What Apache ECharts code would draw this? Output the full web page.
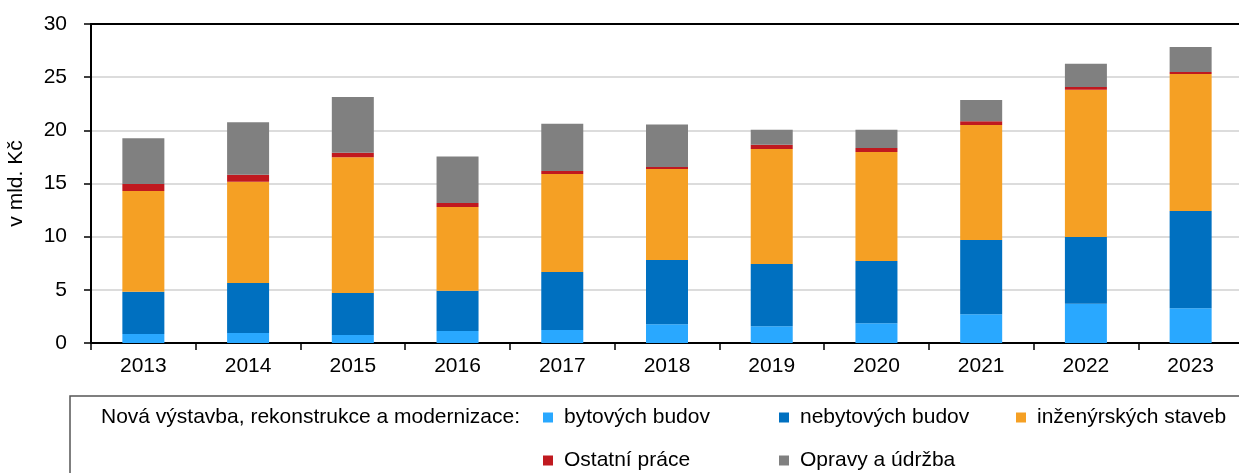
<!DOCTYPE html>
<html>
<head>
<meta charset="utf-8">
<script src="https://cdn.jsdelivr.net/npm/echarts@6/dist/echarts.min.js"></script>
<style>
  html, body { margin: 0; padding: 0; background: #fff; }
  #chart { width: 1239px; height: 473px; }
</style>
</head>
<body>
<div id="chart"></div>
<script>
const years = ['2013', '2014', '2015', '2016', '2017', '2018', '2019', '2020', '2021', '2022', '2023']
const bytove = [0.85, 0.94, 0.75, 1.13, 1.22, 1.76, 1.57, 1.85, 2.70, 3.70, 3.26]
const nebytove = [3.98, 4.70, 3.95, 3.79, 5.46, 6.05, 5.86, 5.86, 6.99, 6.27, 9.15]
const inzenyrske = [9.47, 9.53, 12.76, 7.87, 9.21, 8.55, 10.81, 10.25, 10.81, 13.85, 12.89]
const ostatni = [0.65, 0.66, 0.44, 0.38, 0.29, 0.19, 0.41, 0.38, 0.35, 0.26, 0.19]
const opravy = [4.30, 4.92, 5.23, 4.38, 4.45, 4.01, 1.41, 1.72, 2.00, 2.19, 2.35]

const names = ['bytových budov', 'nebytových budov', 'inženýrských staveb', 'Ostatní práce', 'Opravy a údržba']
const colors = ['#29A8FF', '#0070C0', '#F5A024', '#C0191F', '#808080']
const seriesData = [bytove, nebytove, inzenyrske, ostatni, opravy]
// marker left / row centre for each legend item
const legendPos = [[543, 418], [779, 418], [1016, 418], [543, 461], [779, 461]]

const font = 'Liberation Sans, Arial, sans-serif'
const fs = 21

const chart = echarts.init(document.getElementById('chart'))
chart.setOption({
  animation: false,
  textStyle: { fontFamily: font },
  title: {
    text: 'Nová výstavba, rekonstrukce a modernizace:',
    left: 101,
    top: 407,
    padding: 0,
    textStyle: { fontSize: fs, fontWeight: 'normal', color: '#000', fontFamily: font }
  },
  graphic: [{
    type: 'rect',
    shape: { x: 70, y: 396, width: 1200, height: 120 },
    style: { fill: 'none', stroke: '#555', lineWidth: 1.5 },
    silent: true
  }],
  legend: names.map((n, i) => ({
    data: [n],
    left: legendPos[i][0],
    top: legendPos[i][1] - 11,
    padding: 0,
    icon: 'rect',
    itemWidth: 10,
    itemHeight: 10,
    selectedMode: false,
    textStyle: { fontSize: fs, color: '#000', fontFamily: font, padding: [0, 0, 0, 6] }
  })),
  grid: {
    left: 91,
    top: 24,
    width: 1152,
    bottom: 130,
    outerBoundsMode: 'none'
  },
  xAxis: [{
    type: 'category',
    data: years,
    axisLine: { lineStyle: { color: '#000', width: 2 } },
    axisTick: { show: true, length: 7, lineStyle: { color: '#000', width: 1.5 } },
    axisLabel: { color: '#000', fontSize: fs, margin: 13, fontFamily: font }
  }, {
    type: 'category',
    position: 'top',
    data: years,
    axisLine: { lineStyle: { color: '#000', width: 2 } },
    axisTick: { show: false },
    axisLabel: { show: false }
  }],
  yAxis: [{
    type: 'value',
    min: 0,
    max: 30,
    interval: 5,
    name: 'v mld. Kč',
    nameLocation: 'middle',
    nameGap: 64,
    nameTextStyle: { fontSize: fs, color: '#000', fontFamily: font },
    axisLine: { show: true, lineStyle: { color: '#000', width: 2 } },
    axisTick: { show: true, length: 7, lineStyle: { color: '#000', width: 1.5 } },
    axisLabel: { color: '#000', fontSize: fs, margin: 24, fontFamily: font },
    splitLine: { show: true, lineStyle: { color: '#d0d0d0', width: 1.5 } }
  }],
  series: names.map((n, i) => ({
    name: n,
    type: 'bar',
    stack: 'total',
    barWidth: 42,
    data: seriesData[i],
    itemStyle: { color: colors[i] }
  }))
})
</script>
</body>
</html>
